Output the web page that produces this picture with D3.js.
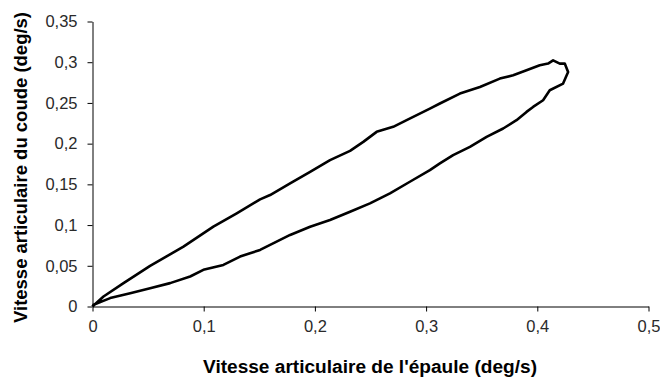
<!DOCTYPE html>
<html>
<head>
<meta charset="utf-8">
<script src="https://cdn.jsdelivr.net/npm/d3@7"></script>
<style>
  html, body { margin: 0; padding: 0; background: #fff; }
  svg { display: block; }
</style>
</head>
<body>
<svg id="chart" width="660" height="379"></svg>
<script>
// Shoulder vs. elbow joint angular velocity (deg/s): one movement loop,
// outward path (upper branch) then return path (lower branch).
const shoulderVel = [
  0, 0.0099, 0.0279, 0.0518, 0.0818, 0.1087, 0.1297, 0.1507, 0.1597, 0.1777,
  0.1957, 0.2136, 0.2316, 0.2435, 0.2555, 0.2704, 0.2825, 0.3034, 0.3124, 0.3304,
  0.3484, 0.3663, 0.3783, 0.3903, 0.4022, 0.4097, 0.4142, 0.4202, 0.4247, 0.4277,
  0.4232, 0.4112, 0.4052, 0.3962, 0.3903, 0.3813, 0.3693, 0.3544, 0.3394, 0.3243,
  0.3124, 0.3034, 0.2854, 0.2675, 0.2495, 0.2316, 0.2136, 0.1957, 0.1777, 0.1597,
  0.1507, 0.1417, 0.1327, 0.1177, 0.0997, 0.0878, 0.0698, 0.0518, 0.0339, 0.0159,
  0.0009, 0
];
const elbowVel = [
  0, 0.0123, 0.0287, 0.0499, 0.0735, 0.0980, 0.1145, 0.1316, 0.1369, 0.1512,
  0.1654, 0.1798, 0.1912, 0.2022, 0.2145, 0.2206, 0.2288, 0.2431, 0.2493, 0.2615,
  0.2696, 0.2799, 0.2840, 0.2901, 0.2962, 0.2983, 0.3023, 0.2983, 0.2983, 0.2880,
  0.2738, 0.2656, 0.2533, 0.2451, 0.2390, 0.2288, 0.2186, 0.2083, 0.1961, 0.1859,
  0.1757, 0.1675, 0.1532, 0.1390, 0.1267, 0.1164, 0.1062, 0.0980, 0.0879, 0.0756,
  0.0695, 0.0654, 0.0613, 0.0511, 0.0450, 0.0368, 0.0287, 0.0225, 0.0164, 0.0103,
  0.0021, 0
];
const xTicks = [0, 0.1, 0.2, 0.3, 0.4, 0.5];
const yTicks = [0, 0.05, 0.1, 0.15, 0.2, 0.25, 0.3, 0.35];
const xTitle = "Vitesse articulaire de l'épaule (deg/s)";
const yTitle = "Vitesse articulaire du coude (deg/s)";

const svg = d3.select("#chart");
const x = d3.scaleLinear().domain([0, 0.5]).range([92.5, 648.5]);
const y = d3.scaleLinear().domain([0, 0.35]).range([306.5, 21.5]);

const fmt = d => String(+d.toFixed(2)).replace(".", ",");

// X axis
const gx = svg.append("g").attr("transform", "translate(0,306.5)")
  .call(d3.axisBottom(x).tickValues(xTicks).tickSize(5).tickSizeOuter(0).tickPadding(9).tickFormat(fmt));
// Y axis
const gy = svg.append("g").attr("transform", "translate(92.5,0)")
  .call(d3.axisLeft(y).tickValues(yTicks).tickSize(5).tickSizeOuter(0).tickPadding(10).tickFormat(fmt));

[gx, gy].forEach(g => {
  g.selectAll(".domain").attr("stroke", "#000").attr("stroke-width", 1);
  g.selectAll(".tick line").attr("stroke", "#000");
  g.selectAll(".tick text")
    .attr("fill", "#2a2a2a")
    .style("font-family", "'Liberation Sans', Arial, sans-serif")
    .style("font-size", "16.5px");
});

// Loop curve
const pts = shoulderVel.map((v, i) => [v, elbowVel[i]]);
svg.append("path")
  .datum(pts)
  .attr("fill", "none")
  .attr("stroke", "#000")
  .attr("stroke-width", 2.6)
  .attr("stroke-linejoin", "round")
  .attr("d", d3.line().x(d => x(d[0])).y(d => y(d[1])));

// Axis titles
svg.append("text")
  .attr("x", 203).attr("y", 373)
  .attr("textLength", 334).attr("lengthAdjust", "spacingAndGlyphs")
  .style("font-family", "'Liberation Sans', Arial, sans-serif")
  .style("font-size", "18px").style("font-weight", "bold")
  .text(xTitle);

svg.append("text")
  .attr("transform", "translate(27,323) rotate(-90)")
  .attr("textLength", 311).attr("lengthAdjust", "spacingAndGlyphs")
  .style("font-family", "'Liberation Sans', Arial, sans-serif")
  .style("font-size", "18px").style("font-weight", "bold")
  .text(yTitle);
</script>
</body>
</html>
